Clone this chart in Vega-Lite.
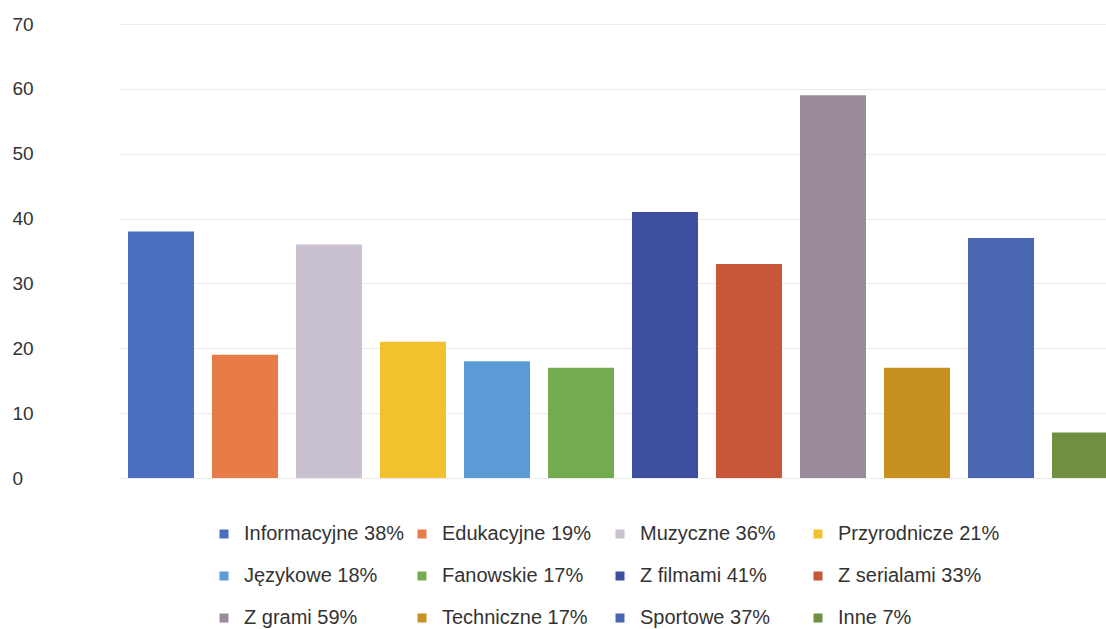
{
  "$schema": "https://vega.github.io/schema/vega-lite/v6.json",
  "width": 1008,
  "height": 454,
  "autosize": {"type": "none"},
  "padding": {"left": 119, "top": 24, "right": 0, "bottom": 151},
  "background": "white",
  "config": {
    "view": {"stroke": null},
    "font": "Liberation Sans"
  },
  "data": {
    "values": [
      {"kategoria": "Informacyjne 38%", "wartosc": 38},
      {"kategoria": "Edukacyjne 19%", "wartosc": 19},
      {"kategoria": "Muzyczne 36%", "wartosc": 36},
      {"kategoria": "Przyrodnicze 21%", "wartosc": 21},
      {"kategoria": "Językowe 18%", "wartosc": 18},
      {"kategoria": "Fanowskie 17%", "wartosc": 17},
      {"kategoria": "Z filmami 41%", "wartosc": 41},
      {"kategoria": "Z serialami 33%", "wartosc": 33},
      {"kategoria": "Z grami 59%", "wartosc": 59},
      {"kategoria": "Techniczne 17%", "wartosc": 17},
      {"kategoria": "Sportowe 37%", "wartosc": 37},
      {"kategoria": "Inne 7%", "wartosc": 7}
    ]
  },
  "mark": {"type": "bar"},
  "encoding": {
    "x": {
      "field": "kategoria",
      "type": "nominal",
      "sort": null,
      "scale": {"paddingInner": 0.214, "paddingOuter": 0.107},
      "axis": null
    },
    "y": {
      "field": "wartosc",
      "type": "quantitative",
      "scale": {"domain": [0, 70], "nice": false},
      "axis": {
        "title": null,
        "values": [0, 10, 20, 30, 40, 50, 60, 70],
        "domain": false,
        "ticks": false,
        "labelAlign": "left",
        "labelPadding": 107,
        "labelFontSize": 19,
        "labelColor": "#333333",
        "gridColor": "#ececec",
        "gridWidth": 1
      }
    },
    "color": {
      "field": "kategoria",
      "type": "nominal",
      "sort": null,
      "scale": {
        "domain": ["Informacyjne 38%", "Edukacyjne 19%", "Muzyczne 36%", "Przyrodnicze 21%", "Językowe 18%", "Fanowskie 17%", "Z filmami 41%", "Z serialami 33%", "Z grami 59%", "Techniczne 17%", "Sportowe 37%", "Inne 7%"],
        "range": ["#4a6fc0", "#e87c48", "#c9c0d0", "#f2c12e", "#5b9bd5", "#74aa50", "#3f4fa0", "#c9573a", "#9a8c9a", "#c8911f", "#4a66b0", "#6f9040"]
      },
      "legend": {
        "title": null,
        "orient": "none",
        "legendX": 95,
        "legendY": 500,
        "direction": "horizontal",
        "columns": 4,
        "gridAlign": "all",
        "columnPadding": 6,
        "rowPadding": 22,
        "symbolType": "square",
        "symbolSize": 81,
        "symbolStrokeWidth": 0,
        "symbolOpacity": 1,
        "labelFontSize": 20,
        "labelColor": "#333333",
        "labelOffset": 10,
        "labelLimit": 300
      }
    }
  }
}
